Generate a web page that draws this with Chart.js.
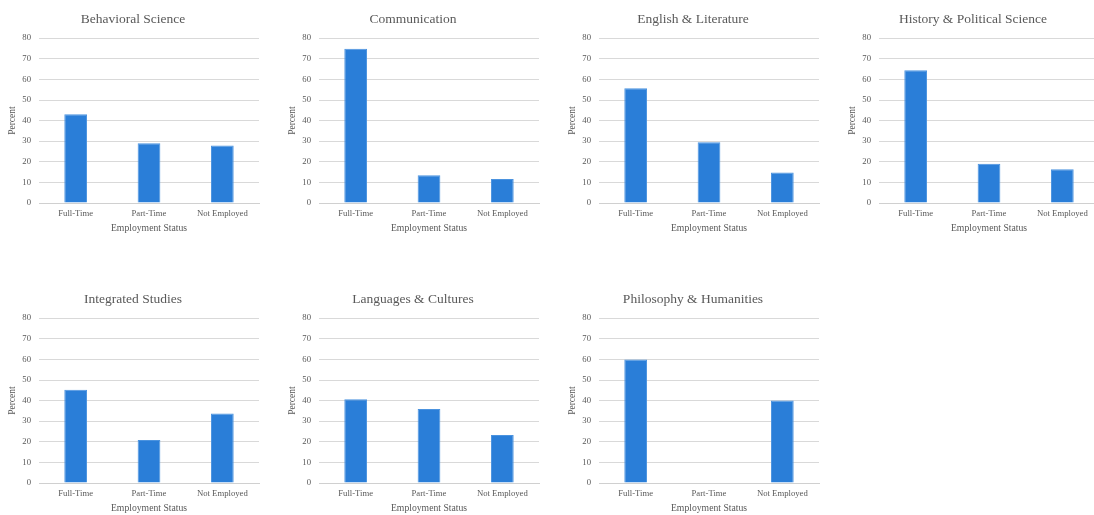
<!DOCTYPE html>
<html>
<head>
<meta charset="utf-8">
<title>Employment Status by Major</title>
<script src="https://cdn.jsdelivr.net/npm/chart.js@4/dist/chart.umd.min.js"></script>
<style>
  html, body { margin: 0; padding: 0; background: #fff; }
  body { width: 1094px; height: 515px; position: relative; overflow: hidden; }
  .panel { position: absolute; width: 266px; height: 235px; }
</style>
</head>
<body>
<div id="grid"></div>
<script>
// categories and tick labels shared by every panel
const statuses = ["Full-Time", "Part-Time", "Not Employed"];
const yTicks = [0, 10, 20, 30, 40, 50, 60, 70, 80];

// one title + values array per major (percent)
const majors = [
  "Behavioral Science",
  "Communication",
  "English & Literature",
  "History & Political Science",
  "Integrated Studies",
  "Languages & Cultures",
  "Philosophy & Humanities"
];
const behavioralScience = [43.1, 29.0, 27.9];
const communication = [74.9, 13.5, 11.6];
const englishLiterature = [55.7, 29.5, 14.8];
const historyPolitical = [64.4, 19.1, 16.4];
const integratedStudies = [45.3, 20.9, 33.7];
const languagesCultures = [40.6, 35.9, 23.3];
const philosophyHumanities = [60.0, 0, 40.0];

const seriesList = [
  behavioralScience, communication, englishLiterature, historyPolitical,
  integratedStudies, languagesCultures, philosophyHumanities
];

const grey = "#595959";
const serif = "'Liberation Serif', 'Times New Roman', serif";

function makePanel(i) {
  const col = i % 4;
  const row = Math.floor(i / 4);
  const box = document.createElement("div");
  box.className = "panel";
  box.style.left = (col * 280) + "px";
  box.style.top = (row * 280) + "px";
  const cv = document.createElement("canvas");
  cv.width = 266;
  cv.height = 235;
  box.appendChild(cv);
  document.getElementById("grid").appendChild(box);

  new Chart(cv.getContext("2d"), {
    type: "bar",
    data: {
      labels: statuses,
      datasets: [{
        label: "Percent",
        data: seriesList[i],
        backgroundColor: "#2a7ed8",
        borderColor: "#4b93df",
        borderWidth: 1,
        barPercentage: 0.31,
        categoryPercentage: 1
      }]
    },
    options: {
      responsive: false,
      animation: false,
      devicePixelRatio: 1,
      layout: { padding: { left: 7, right: 7, top: 0, bottom: 0 } },
      plugins: {
        legend: { display: false },
        tooltip: { enabled: false },
        title: {
          display: true,
          text: majors[i],
          color: grey,
          font: { family: serif, size: 13.5, weight: "normal" },
          padding: { top: 11, bottom: 11 }
        }
      },
      scales: {
        x: {
          grid: { display: false, drawTicks: false },
          border: { display: true, color: "#d0d0d0" },
          ticks: { color: grey, font: { family: serif, size: 8.7 }, padding: 5, maxRotation: 0 },
          title: {
            display: true,
            text: "Employment Status",
            color: grey,
            font: { family: serif, size: 9.7 },
            padding: { top: 0, bottom: 1 }
          },
          afterFit: s => { s.height = 32; }
        },
        y: {
          min: 0,
          max: 80,
          afterBuildTicks: s => { s.ticks = yTicks.map(v => ({ value: v })); },
          grid: { color: "#d9d9d9", drawTicks: false },
          border: { display: false },
          ticks: { color: grey, font: { family: serif, size: 8.7 }, padding: 8 },
          title: {
            display: true,
            text: "Percent",
            color: grey,
            font: { family: serif, size: 9.5 },
            padding: { top: 0, bottom: 0 }
          },
          afterFit: s => { s.width = 32; }
        }
      }
    }
  });
}

majors.forEach((m, i) => makePanel(i));
</script>
</body>
</html>
